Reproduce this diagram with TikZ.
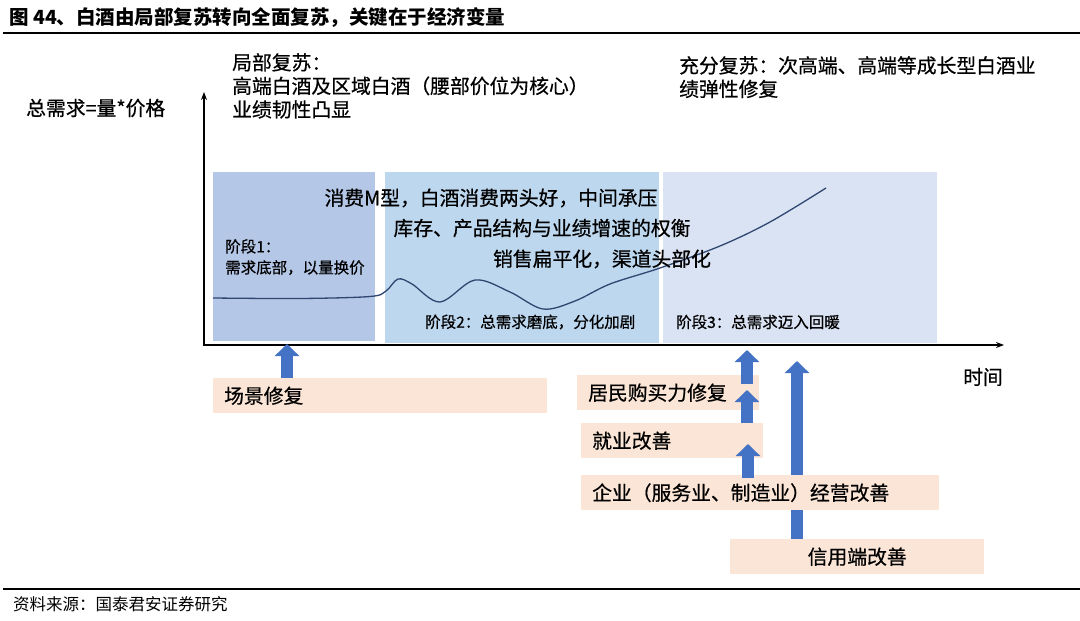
\documentclass[tikz,border=0pt]{standalone}
\usepackage{fontspec}
\setmainfont{Noto Sans CJK SC}
\newfontfamily\medcjk[FakeBold=0.6]{Noto Sans CJK SC}
\usepackage{tikz}
\usetikzlibrary{arrows.meta,positioning}
\definecolor{StageA}{RGB}{180,199,231}
\definecolor{StageB}{RGB}{189,215,238}
\definecolor{StageC}{RGB}{218,227,243}
\definecolor{Peach}{RGB}{251,229,214}
\definecolor{ArrBlue}{RGB}{68,114,196}
\definecolor{CurveBlue}{RGB}{47,70,112}
\newcommand{\bigfont}{\medcjk\fontsize{19.8}{23.5}\selectfont}
\newcommand{\smallfont}{\medcjk\fontsize{15.5}{21}\selectfont}

\begin{document}
\begin{tikzpicture}[x=1pt,y=-1pt,
  peachbox/.style={fill=Peach,anchor=north west,minimum height=35pt,inner xsep=11pt,inner ysep=0pt,align=left,font=\bigfont},
  blockarrow/.style={ArrBlue,line width=12pt,-{Triangle[length=12pt,width=24pt]}},
  lbl/.style={inner sep=0pt,anchor=west}]
\useasboundingbox (0,0) rectangle (1080,621);

% title and source
\node[lbl,font=\bfseries\fontsize{19.5}{22}\selectfont] (title) at (9,18) {图 44、白酒由局部复苏转向全面复苏，关键在于经济变量};
\draw[line width=1.8pt] (3,33) -- (1080,33);
\draw[line width=1.8pt] (3,589) -- (1080,589);
\node[lbl,font=\fontsize{16.5}{18}\selectfont] (source) at (13,604) {资料来源：国泰君安证券研究};

% stage backgrounds
\fill[StageA] (213,172) rectangle (375,341);
\fill[StageB] (385,172) rectangle (659,343);
\fill[StageC] (663,172) rectangle (937,343);

% axes
\coordinate (O) at (204,345);
\coordinate (ytop) at (204,92);
\coordinate (xend) at (1004,345);
\draw[line width=1.4pt,-{Stealth[length=8pt,width=6pt]}] ([yshift=-1pt]O) -- (ytop);
\draw[line width=1.4pt,-{Stealth[length=8pt,width=6pt]}] (O) -- (xend);
\node[lbl,font=\bigfont] (ylab) at (26,108) {总需求=量*价格};
\node[lbl,font=\bigfont] (xlab) at (963,377) {时间};

% demand curve
\draw[CurveBlue,line width=1.3pt] plot[smooth,tension=0.55] coordinates {
  (213,298) (300,298.5) (370,296.5) (386,291) (398,279) (412,284) (440,302)
  (475,280) (510,292) (543,309) (575,301) (610,284) (660,268) (720,246) (770,222) (826,188)};

% top notes
\node[inner sep=0pt,anchor=north west,align=left,font=\bigfont] (partial) at (232,53) {局部复苏：\\高端白酒及区域白酒（腰部价位为核心）\\业绩韧性凸显};
\node[inner sep=0pt,anchor=north west,align=left,font=\bigfont] (full) at (679,56) {充分复苏：次高端、高端等成长型白酒业\\绩弹性修复};

% middle texts
\node[inner sep=0pt,font=\bigfont] (mshape) at (491,198) {消费M型，白酒消费两头好，中间承压};
\node[inner sep=0pt,font=\bigfont] (stock) at (542,228) {库存、产品结构与业绩增速的权衡};
\node[inner sep=0pt,font=\bigfont] (flat) at (602,259) {销售扁平化，渠道头部化};

% stage labels
\node[inner sep=0pt,anchor=north west,align=left,font=\smallfont] (st1) at (225,239) {阶段1：\\需求底部，以量换价};
\node[lbl,font=\smallfont] (st2) at (425,322) {阶段2：总需求磨底，分化加剧};
\node[lbl,font=\smallfont] (st3) at (676,322) {阶段3：总需求迈入回暖};

% drivers
\node[peachbox,text width=312pt] (scene) at (213,378) {场景修复};
\draw[blockarrow] ([xshift=74pt]scene.north west) -- (287,344);
\node[peachbox,text width=232pt,align=center] (credit) at (730,539) {信用端改善};
\draw[blockarrow] ([xshift=67pt]credit.north west) -- (797,361);
\node[peachbox,text width=160pt] (buy) at (577,375) {居民购买力修复};
\node[peachbox,text width=160pt] (job) at (581,423) {就业改善};
\node[peachbox,text width=336pt] (corp) at (581,475) {企业（服务业、制造业）经营改善};
\draw[blockarrow] ([xshift=170pt,yshift=-9pt]buy.north west) -- (747,350);
\draw[blockarrow] ([xshift=166pt]job.north west) -- (747,390);
\draw[blockarrow] ([xshift=167pt,yshift=-3pt]corp.north west) -- (748,444);
\end{tikzpicture}
\end{document}
